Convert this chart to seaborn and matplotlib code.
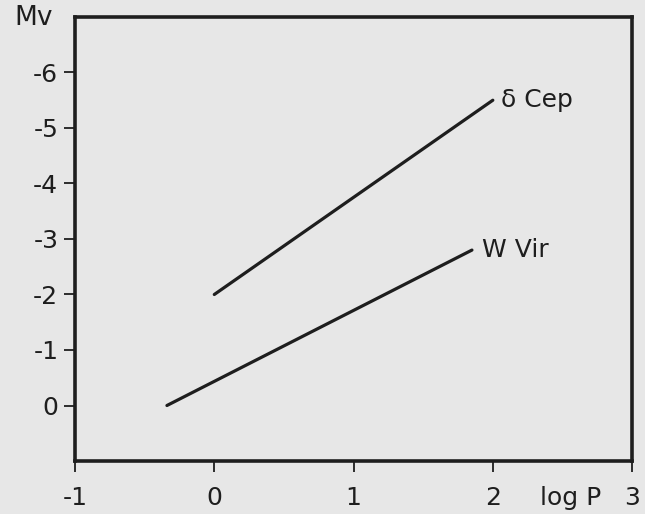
import matplotlib
matplotlib.use("Agg")
import matplotlib.pyplot as plt
import seaborn as sns
import pandas as pd

# Data
series_names = ["δ Cep", "W Vir"]
cep_logp = [0.0, 2.0]
cep_mv = [-2.0, -5.5]
wvir_logp = [-0.34, 1.85]
wvir_mv = [0.0, -2.8]
x_ticks = [-1, 0, 1, 2, 3]
y_ticks = [0, -1, -2, -3, -4, -5, -6]

df = pd.DataFrame({
    "logP": cep_logp + wvir_logp,
    "Mv": cep_mv + wvir_mv,
    "type": [series_names[0]] * len(cep_logp) + [series_names[1]] * len(wvir_logp),
})

sns.set_theme(style="ticks")
plt.rcParams["font.family"] = ["DejaVu Sans"]
bg = "#e7e7e7"
ink = "#1e1e1e"
fs = 18

fig = plt.figure(figsize=(6.45, 5.14), dpi=100, facecolor=bg)
ax = fig.add_axes([0.1163, 0.1031, 0.8637, 0.8639])
ax.set_facecolor(bg)

sns.lineplot(data=df, x="logP", y="Mv", hue="type", units="type", estimator=None,
             palette={series_names[0]: ink, series_names[1]: ink},
             linewidth=2.3, legend=False, ax=ax, sort=False)

ax.set_xlim(-1, 3)
ax.set_ylim(1, -7)
ax.set_xticks(x_ticks)
ax.set_xticklabels(["-1", "0", "1", "2", "3"])
ax.set_yticks(y_ticks)
ax.set_yticklabels(["0", "-1", "-2", "-3", "-4", "-5", "-6"])
ax.set_xlabel("")
ax.set_ylabel("")

for s in ax.spines.values():
    s.set_linewidth(2.6)
    s.set_color(ink)

tick_len = 8
x_pad = 10
ax.tick_params(axis="both", direction="out", length=tick_len, width=1.3, color=ink,
               labelsize=fs, labelcolor=ink)
ax.tick_params(axis="x", pad=x_pad)
ax.tick_params(axis="y", pad=4)

# Series labels at line ends
ax.text(cep_logp[-1] + 0.06, cep_mv[-1], series_names[0], fontsize=fs, color=ink,
        va="center", ha="left")
ax.text(wvir_logp[-1] + 0.07, wvir_mv[-1], series_names[1], fontsize=fs, color=ink,
        va="center", ha="left")

# Axis titles placed like the original
fig.text(0.023, 0.965, "Mv", fontsize=19, color=ink, ha="left", va="center")
ax.annotate("log P", xy=(2.56, 0), xycoords=ax.get_xaxis_transform(),
            xytext=(0, -(tick_len + x_pad)), textcoords="offset points",
            fontsize=fs, color=ink, ha="center", va="top")

fig.savefig("out.png", dpi=100, facecolor=bg)
